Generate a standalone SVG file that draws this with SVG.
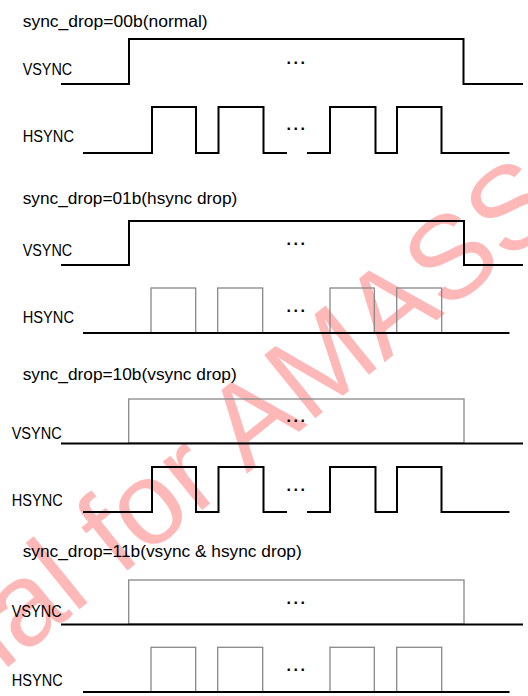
<svg xmlns="http://www.w3.org/2000/svg" width="528" height="696" viewBox="0 0 528 696">
<style>
.bg{fill:#ffffff}
.wm{font-family:"Liberation Sans",Arial,sans-serif;font-size:118px;fill:#ff0000;fill-opacity:0.28}
.t{font-family:"Liberation Sans",Arial,sans-serif;font-size:16px;fill:#000000}
.d{font-family:"Liberation Sans",Arial,sans-serif;font-size:16px;font-weight:bold;fill:#000000;letter-spacing:2.6px}
.w{fill:none;stroke:#000000;stroke-width:2;stroke-linejoin:miter;stroke-linecap:butt}
.g{fill:none;stroke:#888888;stroke-width:1.3}
</style>
<rect class="bg" x="0" y="0" width="528" height="696"/>
<text class="wm" x="2" y="672" transform="rotate(-39 2 672)">ial for AMASS</text>

<g id="mode00">
<text class="t" x="22.7" y="27.3" textLength="185" lengthAdjust="spacingAndGlyphs">sync_drop=00b(normal)</text>
<text class="t" x="22.7" y="75" textLength="49.5" lengthAdjust="spacingAndGlyphs">VSYNC</text>
<text class="t" x="22.7" y="141.7" textLength="51.3" lengthAdjust="spacingAndGlyphs">HSYNC</text>
<path class="w" d="M61,84 H129 V39 H463.5 V84 H523"/>
<path class="w" d="M83,153 H152 V107 H196 V153 H218.5 V107 H263.5 V153 H287 M307,153 H330 V107 H375.5 V153 H397 V107 H441.5 V153 H509.5"/>
<text class="d" x="286.5" y="64">...</text>
<text class="d" x="286.5" y="130">...</text>
</g>

<g id="mode01">
<text class="t" x="22.7" y="204.3" textLength="214.6" lengthAdjust="spacingAndGlyphs">sync_drop=01b(hsync drop)</text>
<text class="t" x="22.7" y="255.7" textLength="49.5" lengthAdjust="spacingAndGlyphs">VSYNC</text>
<text class="t" x="22.7" y="323.3" textLength="51.3" lengthAdjust="spacingAndGlyphs">HSYNC</text>
<path class="w" d="M61,265 H129 V221 H464 V265 H523"/>
<rect class="g" x="151" y="288" width="44.7" height="45"/>
<rect class="g" x="217.7" y="288" width="45" height="45"/>
<rect class="g" x="330" y="288" width="44.3" height="45"/>
<rect class="g" x="396.7" y="288" width="45" height="45"/>
<path class="w" d="M83,333 H509.5"/>
<text class="d" x="286.5" y="244.5">...</text>
<text class="d" x="286.5" y="311.5">...</text>
</g>

<g id="mode10">
<text class="t" x="22.7" y="380" textLength="214" lengthAdjust="spacingAndGlyphs">sync_drop=10b(vsync drop)</text>
<text class="t" x="11.7" y="439" textLength="50" lengthAdjust="spacingAndGlyphs">VSYNC</text>
<text class="t" x="11.7" y="505.7" textLength="51" lengthAdjust="spacingAndGlyphs">HSYNC</text>
<rect class="g" x="128.7" y="399" width="335.3" height="44"/>
<path class="w" d="M61,443.5 H523"/>
<path class="w" d="M83,512 H152 V467 H196 V512 H218.5 V467 H263.5 V512 H287 M307,512 H330 V467 H375.5 V512 H397 V467 H441.5 V512 H509.5"/>
<text class="d" x="286.5" y="421.5">...</text>
<text class="d" x="286.5" y="490.5">...</text>
</g>

<g id="mode11">
<text class="t" x="22.7" y="556.5" textLength="279" lengthAdjust="spacingAndGlyphs">sync_drop=11b(vsync &amp; hsync drop)</text>
<text class="t" x="11.7" y="617" textLength="50" lengthAdjust="spacingAndGlyphs">VSYNC</text>
<text class="t" x="11.7" y="686" textLength="51" lengthAdjust="spacingAndGlyphs">HSYNC</text>
<rect class="g" x="128.7" y="580" width="335.3" height="44"/>
<path class="w" d="M61,624.5 H523"/>
<rect class="g" x="151" y="647.3" width="44.7" height="44.7"/>
<rect class="g" x="217.7" y="647.3" width="45" height="44.7"/>
<rect class="g" x="330" y="647.3" width="44.3" height="44.7"/>
<rect class="g" x="396.7" y="647.3" width="45" height="44.7"/>
<path class="w" d="M83,692 H509.5"/>
<text class="d" x="286.5" y="604">...</text>
<text class="d" x="286.5" y="670.5">...</text>
</g>
</svg>
